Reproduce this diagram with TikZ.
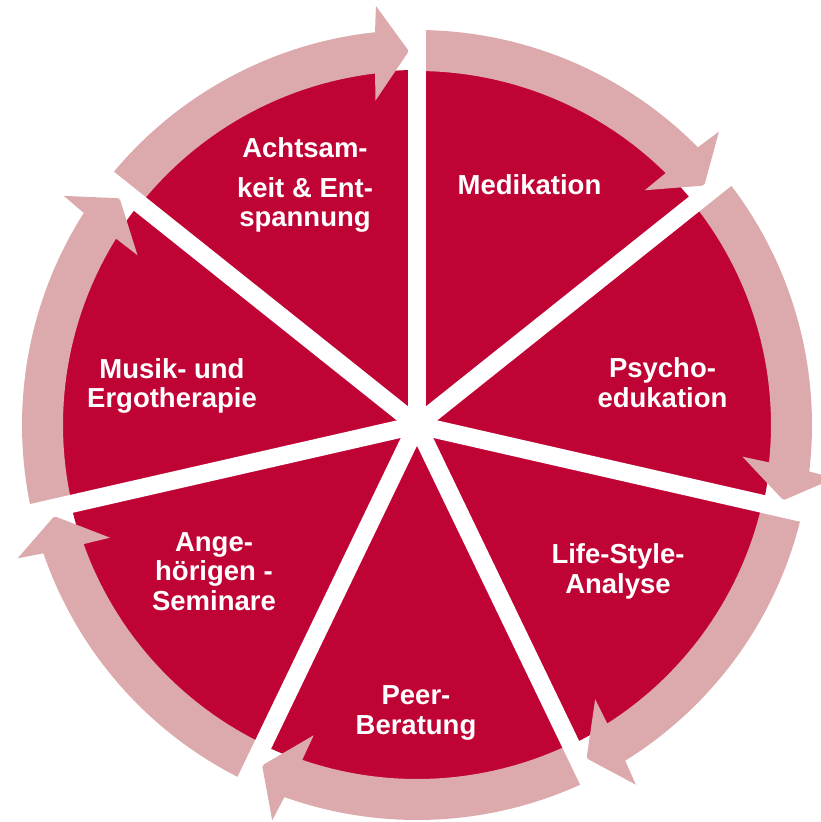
\documentclass[tikz,border=0pt]{standalone}
\usepackage{fontspec}
\setmainfont{Liberation Sans}
\definecolor{piered}{RGB}{192,3,53}
\definecolor{arrowpink}{RGB}{220,169,172}
\tikzset{
  lbl/.style={text=white, font=\bfseries\fontsize{27.5}{29.5}\selectfont, align=center, anchor=base, inner sep=0pt},
  gapline/.style={white, line width=18pt},
  cyclearrow/.style={fill=arrowpink}
}
\begin{document}
\begin{tikzpicture}[x=1pt,y=1pt]
\useasboundingbox (-417,-397) rectangle (403,425);
% pie
\fill[piered] (0,0) circle[radius=355pt];
% circular arrows
\foreach \k in {0,...,6}{
  \pgfmathsetmacro\gs{90-51.428571*\k}
  \pgfmathsetmacro\ge{\gs-51.428571}
  \pgfmathsetmacro\aS{\gs-0.5}
  \pgfmathsetmacro\aNo{\ge+6.1}
  \pgfmathsetmacro\aNi{\ge+6.8}
  \pgfmathsetmacro\aBo{\ge+5.6}
  \pgfmathsetmacro\aBi{\ge+7.3}
  \pgfmathsetmacro\aT{\ge+1.25}
  \fill[cyclearrow] (\aS:395) arc[start angle=\aS, end angle=\aNo, radius=395pt]
     -- (\aBo:421) -- (\aT:374) -- (\aBi:327) -- (\aNi:354)
     arc[start angle=\aNi, end angle=\aS, radius=354pt] -- cycle;
}
% white gaps
\foreach \k in {0,...,6}{
  \pgfmathsetmacro\g{90-51.428571*\k}
  \draw[gapline] (0,0) -- (\g:398);
}
% labels (anchor = baseline of last line)
\node[lbl] (achtsam) at (-112,198) {Achtsam-\\[10.5pt]keit \& Ent-\\spannung};
\node[lbl] (medikation) at (112.5,230) {Medikation};
\node[lbl] (psycho) at (245.5,18) {Psycho-\\edukation};
\node[lbl] (lifestyle) at (201,-168) {Life-Style-\\Analyse};
\node[lbl] (peer) at (-1,-309) {Peer-\\Beratung};
\node[lbl] (angehoerige) at (-203,-185) {Ange-\\hörigen -\\Seminare};
\node[lbl] (musik) at (-245,17) {Musik- und\\Ergotherapie};
\end{tikzpicture}
\end{document}
